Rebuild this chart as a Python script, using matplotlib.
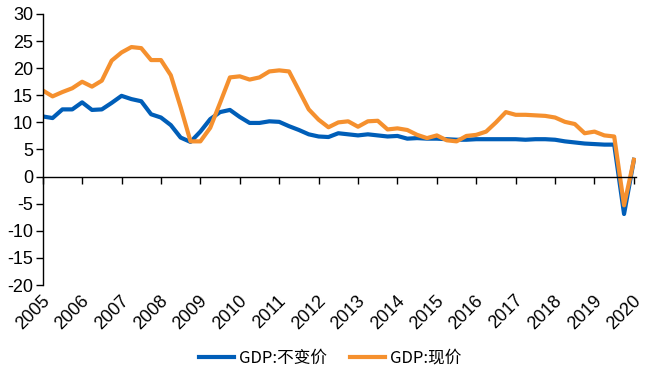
import matplotlib
matplotlib.use('Agg')
import matplotlib.pyplot as plt
import numpy as np

# quarterly GDP growth, yoy %, starting 2005 (Q2)
real_gdp = [11.1, 10.8, 12.4, 12.4, 13.7, 12.3, 12.4, 13.6, 14.9, 14.3,
            13.9, 11.5, 10.9, 9.5, 7.2, 6.4, 8.3, 10.6, 11.9, 12.3,
            11.0, 9.9, 9.9, 10.2, 10.1, 9.3, 8.6, 7.8, 7.4, 7.3,
            8.0, 7.8, 7.6, 7.8, 7.6, 7.4, 7.5, 7.0, 7.1, 7.0,
            7.0, 6.9, 6.8, 6.8, 6.9, 6.9, 6.9, 6.9, 6.9, 6.8,
            6.9, 6.9, 6.8, 6.5, 6.3, 6.1, 6.0, 5.9, 5.9, -6.9,
            3.1]
nominal_gdp = [15.9, 14.8, 15.6, 16.3, 17.5, 16.6, 17.7, 21.4, 22.9, 23.9,
               23.7, 21.5, 21.5, 18.7, 12.8, 6.5, 6.5, 9.0, 13.6, 18.3,
               18.5, 17.9, 18.3, 19.4, 19.6, 19.4, 15.9, 12.4, 10.5, 9.1,
               10.0, 10.2, 9.2, 10.2, 10.3, 8.7, 8.9, 8.6, 7.7, 7.1,
               7.6, 6.7, 6.5, 7.5, 7.7, 8.3, 10.0, 11.9, 11.4, 11.4,
               11.3, 11.2, 10.9, 10.1, 9.7, 8.0, 8.3, 7.6, 7.4, -5.3,
               3.1]
years = [str(y) for y in range(2005, 2021)]
labels = ['GDP:不变价', 'GDP:现价']

plt.rcParams['font.family'] = ['Liberation Sans', 'DejaVu Sans']
plt.rcParams['axes.unicode_minus'] = False

fig = plt.figure(figsize=(6.54, 3.78), dpi=100)
ax = fig.add_axes([0.0653, 0.246, 0.907, 0.717])

x = np.arange(len(real_gdp))
ax.plot(x, real_gdp, color='#005EB8', lw=3, label=labels[0])
ax.plot(x, nominal_gdp, color='#F5902E', lw=3, label=labels[1])

ax.set_xlim(0, 60.2)
ax.set_ylim(-20, 30)
ax.set_yticks(np.arange(-20, 31, 5))
ax.tick_params(axis='y', labelsize=13, length=5, width=1, pad=2)

for s in ['top', 'right']:
    ax.spines[s].set_visible(False)
ax.spines['bottom'].set_position(('data', 0))
ax.spines['left'].set_linewidth(1)
ax.spines['bottom'].set_linewidth(1)

ticks = np.arange(0, 61, 4)
ax.set_xticks(ticks)
ax.tick_params(axis='x', direction='out', length=5, width=1, labelbottom=False)

# year labels sit under the plot area, not on the zero line
for t, lab in zip(ticks, years):
    ax.annotate(lab, xy=(t, 0), xycoords=('data', 'axes fraction'),
                xytext=(-1, -5), textcoords='offset points',
                rotation=45, ha='right', va='top', rotation_mode='anchor',
                fontsize=13)

leg = fig.legend(loc='center', bbox_to_anchor=(0.505, 0.053), ncol=2,
                 frameon=False, handlelength=2.1, handletextpad=0.3,
                 columnspacing=1.4, prop={'family': ['Noto Sans CJK SC', 'DejaVu Sans'], 'size': 12})

fig.savefig('out.png', dpi=100)
